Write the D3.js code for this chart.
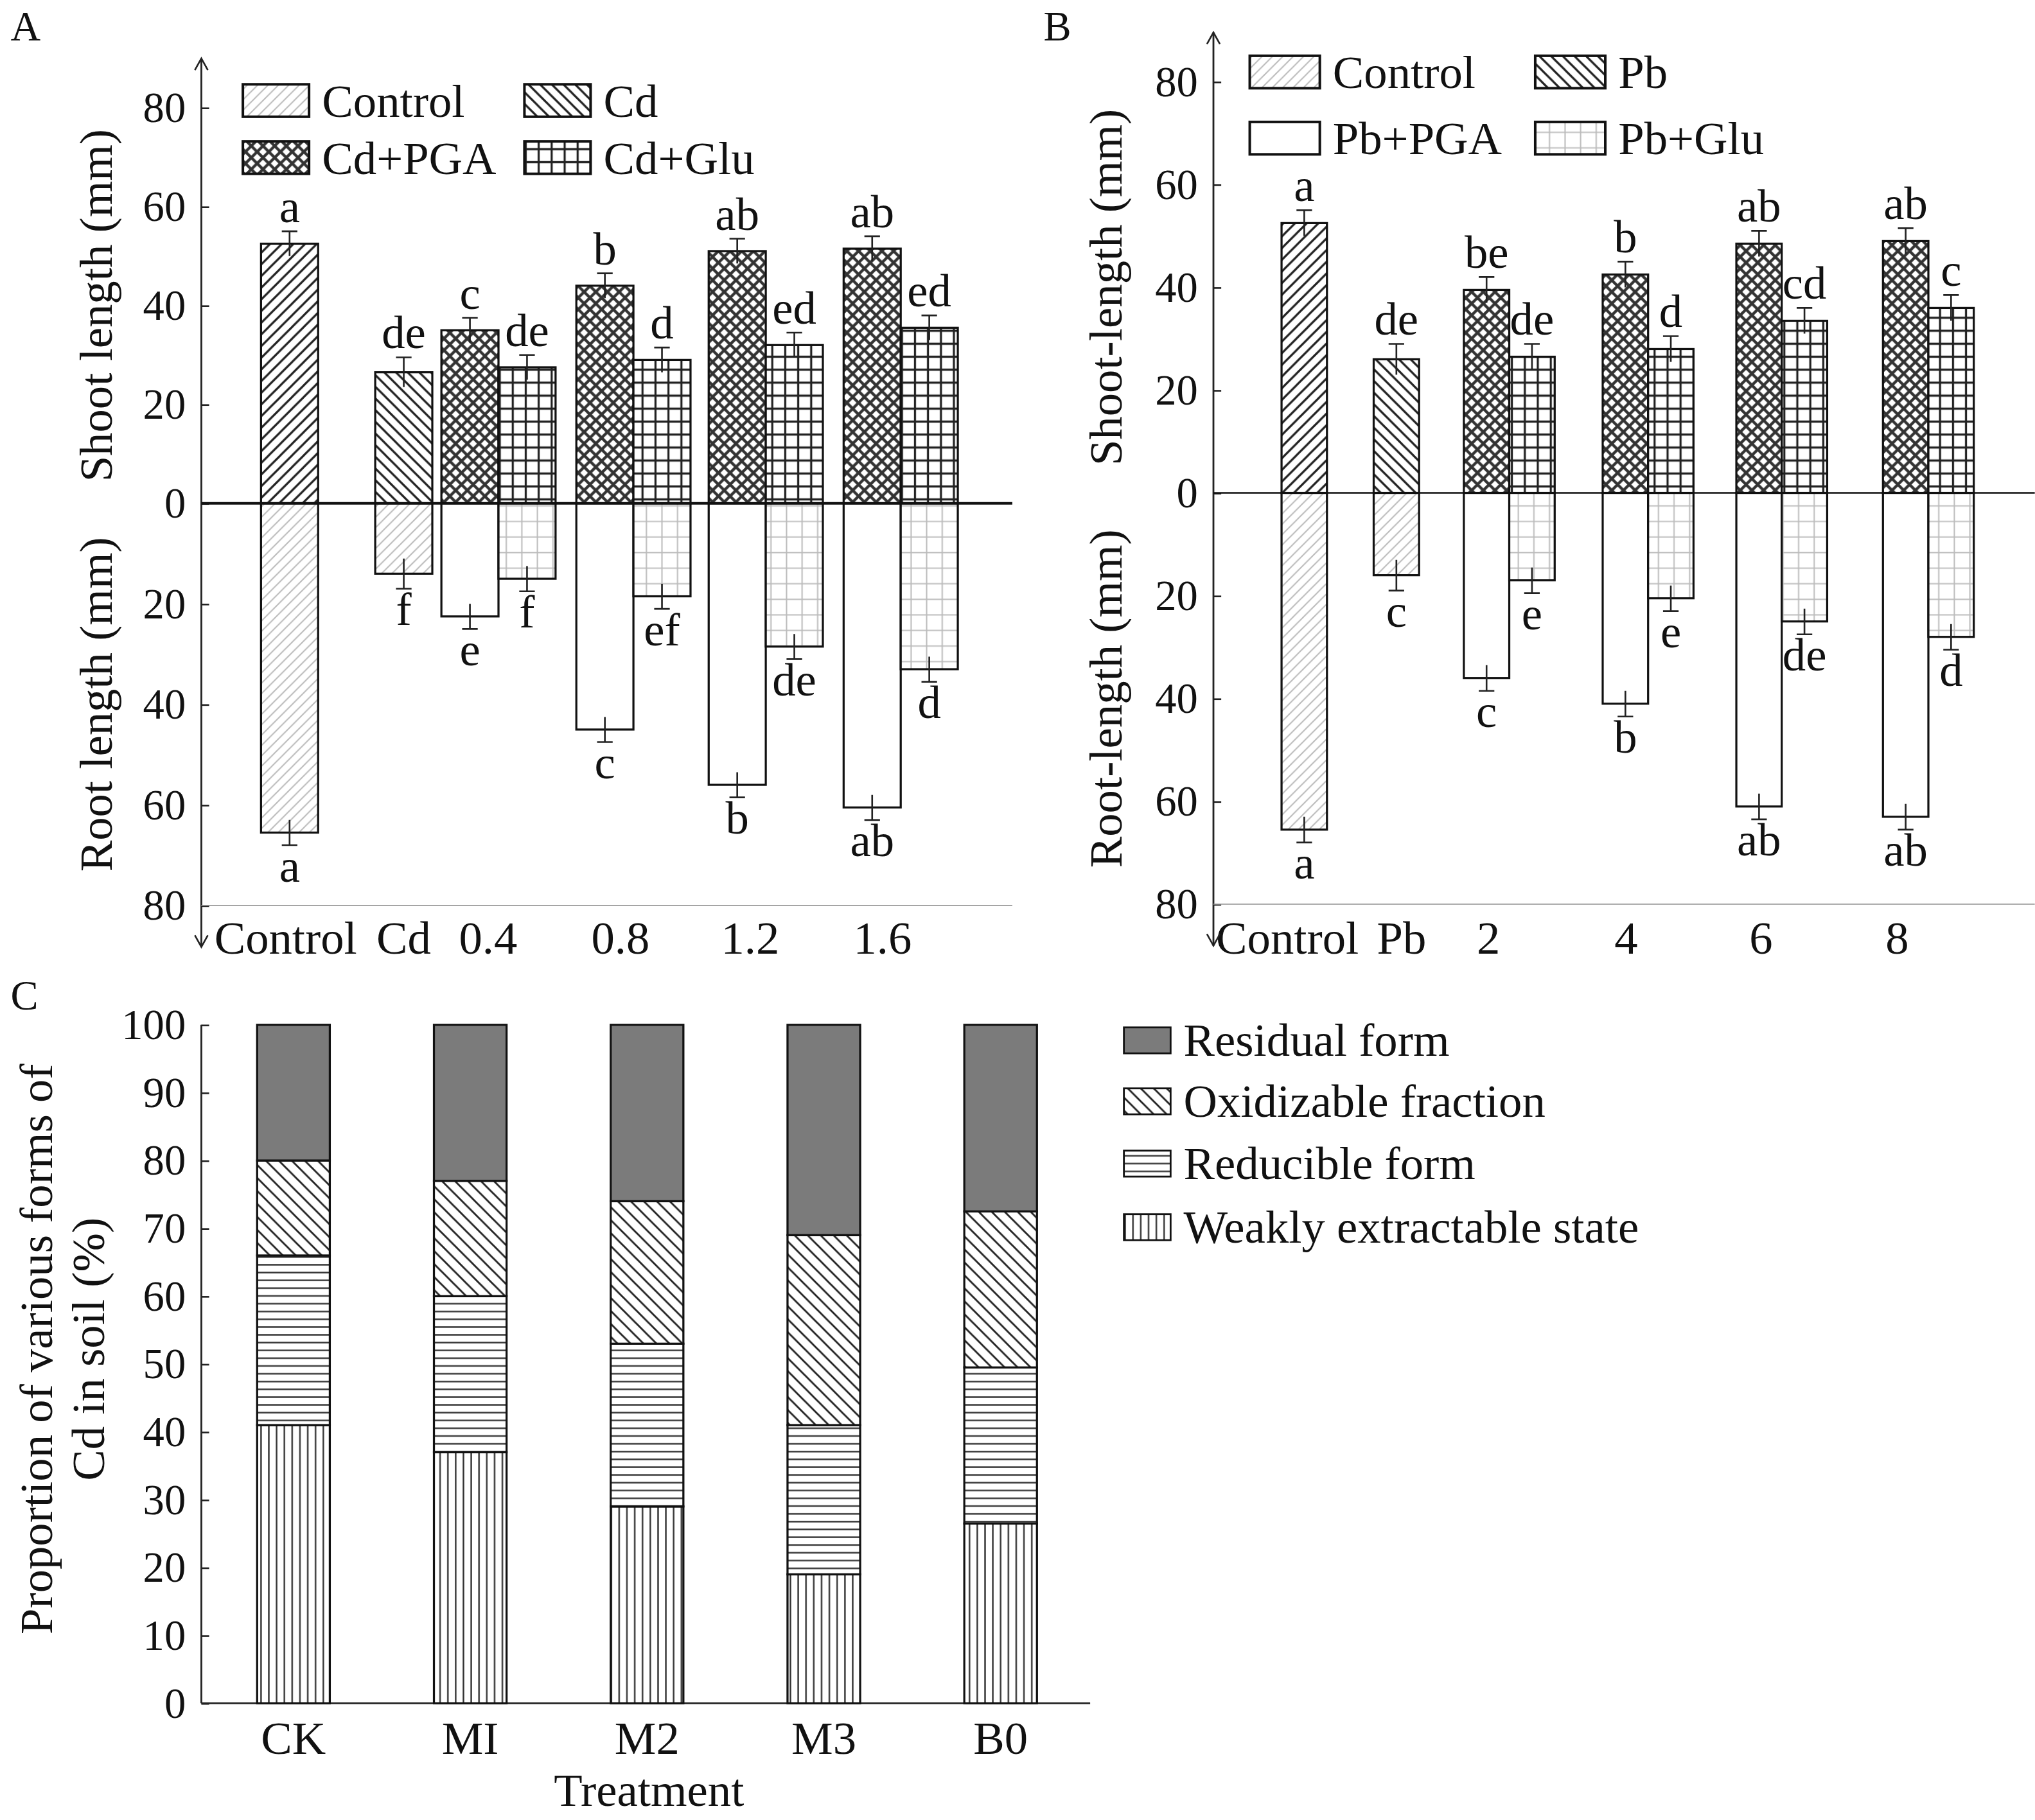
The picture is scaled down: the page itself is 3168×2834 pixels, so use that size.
<!DOCTYPE html>
<html>
<head>
<meta charset="utf-8">
<title>Shoot / root length and Cd fractions</title>
<script src="https://cdn.jsdelivr.net/npm/d3@7/dist/d3.min.js"></script>
<style>
  body { margin: 0; background: #fff; }
  text { font-family: "Liberation Serif", "DejaVu Serif", serif; fill: #111; }
</style>
</head>
<body>
<script>
// ---- panel A data ----
var catsA = ["Control", "Cd", "0.4", "0.8", "1.2", "1.6"];
var seriesA = ["Control", "Cd", "Cd+PGA", "Cd+Glu"];
var barGroupA = ["Control", "Cd", "0.4", "0.4", "0.8", "0.8", "1.2", "1.2", "1.6", "1.6"];
var barSeriesA = [0, 1, 2, 3, 2, 3, 2, 3, 2, 3];
var shootA = [52.5, 26.5, 35, 27.5, 44, 29, 51, 32, 51.5, 35.5];
var shootErrA = [2.5, 3, 2.5, 2.5, 2.5, 2.5, 2.5, 2.5, 2.5, 2.5];
var shootLetA = ["a", "de", "c", "de", "b", "d", "ab", "ed", "ab", "ed"];
var rootA = [65.5, 14, 22.5, 15, 45, 18.5, 56, 28.5, 60.5, 33];
var rootErrA = [2.5, 3, 2.5, 2.5, 2.5, 2.5, 2.5, 2.5, 2.5, 2.5];
var rootLetA = ["a", "f", "e", "f", "c", "ef", "b", "de", "ab", "d"];

// ---- panel B data ----
var catsB = ["Control", "Pb", "2", "4", "6", "8"];
var seriesB = ["Control", "Pb", "Pb+PGA", "Pb+Glu"];
var barGroupB = ["Control", "Pb", "2", "2", "4", "4", "6", "6", "8", "8"];
var barSeriesB = [0, 1, 2, 3, 2, 3, 2, 3, 2, 3];
var shootB = [52.5, 26, 39.5, 26.5, 42.5, 28, 48.5, 33.5, 49, 36];
var shootErrB = [2.5, 3, 2.5, 2.5, 2.5, 2.5, 2.5, 2.5, 2.5, 2.5];
var shootLetB = ["a", "de", "be", "de", "b", "d", "ab", "cd", "ab", "c"];
var rootB = [65.5, 16, 36, 17, 41, 20.5, 61, 25, 63, 28];
var rootErrB = [2.5, 3, 2.5, 2.5, 2.5, 2.5, 2.5, 2.5, 2.5, 2.5];
var rootLetB = ["a", "c", "c", "e", "b", "e", "ab", "de", "ab", "d"];

// ---- panel C data ----
var catsC = ["CK", "MI", "M2", "M3", "B0"];
var formsC = ["Weakly extractable state", "Reducible form", "Oxidizable fraction", "Residual form"];
var weakC = [41, 37, 29, 19, 26.5];
var reducC = [25, 23, 24, 22, 23];
var oxidC = [14, 17, 21, 28, 23];
var residC = [20, 23, 26, 31, 27.5];
var ticksC = [0, 10, 20, 30, 40, 50, 60, 70, 80, 90, 100];
var ticksAB = [0, 20, 40, 60, 80];

var W = 1568, H = 1403;
var svg = d3.select("body").append("svg")
  .attr("width", 3168).attr("height", 2834)
  .attr("viewBox", "0 0 " + W + " " + H);

// ---- patterns ----
var defs = svg.append("defs");
function pat(id, size, bg, draw) {
  var p = defs.append("pattern").attr("id", id).attr("patternUnits", "userSpaceOnUse")
    .attr("width", size).attr("height", size);
  p.append("rect").attr("width", size).attr("height", size).attr("fill", bg);
  draw(p);
}
pat("fwdDark", 9, "#fff", function (p) {
  p.append("path").attr("d", "M-2,11 L11,-2 M-2,2 L2,-2 M7,11 L11,7").attr("stroke", "#222").attr("stroke-width", 1.6);
});
pat("fwdLight", 8, "#fff", function (p) {
  p.append("path").attr("d", "M-2,10 L10,-2 M-2,2 L2,-2 M6,10 L10,6").attr("stroke", "#bbb").attr("stroke-width", 1);
});
pat("back", 9, "#fff", function (p) {
  p.append("path").attr("d", "M-2,-2 L11,11 M-2,7 L2,11 M7,-2 L11,2").attr("stroke", "#222").attr("stroke-width", 1.6);
});
pat("cross", 9, "#fff", function (p) {
  p.append("path").attr("d", "M0,0 L9,9 M9,0 L0,9").attr("stroke", "#333").attr("stroke-width", 2.2);
  p.append("circle").attr("cx", 4.5).attr("cy", 0).attr("r", 1.6).attr("fill", "#fff");
  p.append("circle").attr("cx", 4.5).attr("cy", 9).attr("r", 1.6).attr("fill", "#fff");
});
pat("grid", 10, "#fff", function (p) {
  p.append("path").attr("d", "M5,0 V10 M0,5 H10").attr("stroke", "#222").attr("stroke-width", 1.6);
});
pat("gridLight", 12, "#fff", function (p) {
  p.append("path").attr("d", "M6,0 V12 M0,6 H12").attr("stroke", "#bbb").attr("stroke-width", 1);
});
pat("horiz", 6, "#fff", function (p) {
  p.append("path").attr("d", "M0,3 H6").attr("stroke", "#333").attr("stroke-width", 1.2);
});
pat("vert", 6, "#fff", function (p) {
  p.append("path").attr("d", "M3,0 V6").attr("stroke", "#333").attr("stroke-width", 1.2);
});
pat("backC", 10, "#fff", function (p) {
  p.append("path").attr("d", "M-2,-2 L12,12 M-2,8 L2,12 M8,-2 L12,2").attr("stroke", "#222").attr("stroke-width", 1.4);
});

var shootFill = ["url(#fwdDark)", "url(#back)", "url(#cross)", "url(#grid)"];
var rootFill = ["url(#fwdLight)", "url(#fwdLight)", "#fff", "url(#gridLight)"];
var legendFillA = ["url(#fwdLight)", "url(#back)", "url(#cross)", "url(#grid)"];
var legendFillB = ["url(#fwdLight)", "url(#back)", "#fff", "url(#gridLight)"];

var FS = 36, TS = 33;

function arrowUp(x, y) {
  svg.append("path").attr("d", "M" + (x - 5) + "," + (y + 9) + " L" + x + "," + y + " L" + (x + 5) + "," + (y + 9))
    .attr("fill", "none").attr("stroke", "#222").attr("stroke-width", 1.3);
}
function arrowDown(x, y) {
  svg.append("path").attr("d", "M" + (x - 5) + "," + (y - 9) + " L" + x + "," + y + " L" + (x + 5) + "," + (y - 9))
    .attr("fill", "none").attr("stroke", "#222").attr("stroke-width", 1.3);
}

function panel(o) {
  var g = svg.append("g");
  var yS = d3.scaleLinear().domain([0, 80]).range([o.zero, o.top]);
  var yR = d3.scaleLinear().domain([0, 80]).range([o.zero, o.bottom]);
  var x = d3.scaleOrdinal().domain(o.cats).range(o.centers);

  function bx(i) {
    var c = x(o.groups[i]);
    var s = o.series[i];
    if (s < 2) return c - o.bw / 2;
    return s === 2 ? c - o.bw : c;
  }

  var axS = g.append("g").attr("transform", "translate(" + o.ax + ",0)")
    .call(d3.axisLeft(yS).tickValues(ticksAB).tickSizeInner(-6).tickSizeOuter(0).tickPadding(12));
  var axR = g.append("g").attr("transform", "translate(" + o.ax + ",0)")
    .call(d3.axisLeft(yR).tickValues(ticksAB.slice(1)).tickSizeInner(-6).tickSizeOuter(0).tickPadding(12));
  [axS, axR].forEach(function (a) {
    a.select(".domain").remove();
    a.selectAll("text").attr("font-size", TS).attr("font-family", "Liberation Serif").attr("fill", "#111");
    a.selectAll("line").attr("stroke", "#222").attr("stroke-width", 1.3);
  });
  g.append("line").attr("x1", o.ax).attr("x2", o.ax).attr("y1", o.top - 38).attr("y2", o.bottom + 32)
    .attr("stroke", "#222").attr("stroke-width", 1.4);
  arrowUp(o.ax, o.top - 38);
  arrowDown(o.ax, o.bottom + 32);
  g.append("line").attr("x1", o.ax).attr("x2", o.right).attr("y1", o.bottom).attr("y2", o.bottom)
    .attr("stroke", "#999").attr("stroke-width", 0.8);

  var idx = d3.range(o.shoot.length);
  g.selectAll(".s").data(idx).enter().append("rect")
    .attr("x", bx).attr("width", o.bw)
    .attr("y", function (i) { return yS(o.shoot[i]); })
    .attr("height", function (i) { return yS(0) - yS(o.shoot[i]); })
    .attr("fill", function (i) { return shootFill[o.series[i]]; })
    .attr("stroke", "#111").attr("stroke-width", 1.6);
  g.selectAll(".r").data(idx).enter().append("rect")
    .attr("x", bx).attr("width", o.bw)
    .attr("y", o.zero)
    .attr("height", function (i) { return yR(o.root[i]) - yR(0); })
    .attr("fill", function (i) { return rootFill[o.series[i]]; })
    .attr("stroke", "#111").attr("stroke-width", 1.6);

  idx.forEach(function (i) {
    var cx = bx(i) + o.bw / 2;
    var t1 = yS(o.shoot[i] + o.shootErr[i]), t2 = yS(o.shoot[i] - o.shootErr[i]);
    g.append("path").attr("d", "M" + cx + "," + t2 + " V" + t1 + " M" + (cx - 6) + "," + t1 + " H" + (cx + 6))
      .attr("stroke", "#222").attr("stroke-width", 1.3).attr("fill", "none");
    g.append("text").attr("x", cx).attr("y", t1 - 7).attr("text-anchor", "middle")
      .attr("font-size", FS).text(o.shootLet[i]);
    var r1 = yR(o.root[i] + o.rootErr[i]), r2 = yR(o.root[i] - o.rootErr[i]);
    g.append("path").attr("d", "M" + cx + "," + r2 + " V" + r1 + " M" + (cx - 6) + "," + r1 + " H" + (cx + 6))
      .attr("stroke", "#222").attr("stroke-width", 1.3).attr("fill", "none");
    g.append("text").attr("x", cx).attr("y", r1 + 28).attr("text-anchor", "middle")
      .attr("font-size", FS).text(o.rootLet[i]);
  });

  g.append("line").attr("x1", o.ax).attr("x2", o.right).attr("y1", o.zero).attr("y2", o.zero)
    .attr("stroke", "#111").attr("stroke-width", o.zeroW);

  g.selectAll(".c").data(o.cats).enter().append("text")
    .attr("x", function (d, i) { return o.labelX[i]; }).attr("y", 735)
    .attr("text-anchor", "middle").attr("font-size", FS).text(function (d) { return d; });

  g.append("text").attr("transform", "translate(" + o.titleX + "," + yS(40) + ") rotate(-90)")
    .attr("text-anchor", "middle").attr("font-size", FS).text(o.shootTitle);
  g.append("text").attr("transform", "translate(" + o.titleX + "," + yR(40) + ") rotate(-90)")
    .attr("text-anchor", "middle").attr("font-size", FS).text(o.rootTitle);

  o.legendNames.forEach(function (n, k) {
    var lx = o.legX[k % 2], ly = o.legY[Math.floor(k / 2)];
    g.append("rect").attr("x", lx).attr("y", ly - 13).attr("width", o.legW).attr("height", 25)
      .attr("fill", o.legendFill[k]).attr("stroke", "#111").attr("stroke-width", 2);
    g.append("text").attr("x", lx + o.legW + 10).attr("y", ly + 12).attr("font-size", FS).text(n);
  });
  g.append("text").attr("x", o.letterX).attr("y", 31).attr("font-size", 32).text(o.letter);
}

panel({
  letter: "A", letterX: 8, cats: catsA, groups: barGroupA, series: barSeriesA,
  shoot: shootA, shootErr: shootErrA, shootLet: shootLetA,
  root: rootA, rootErr: rootErrA, rootLet: rootLetA,
  centers: [223, 311, 384, 488, 590, 694], labelX: [220, 311, 376, 478, 578, 680],
  bw: 44, ax: 155, right: 780, zero: 388, top: 83, bottom: 698, zeroW: 2,
  titleX: 86, shootTitle: "Shoot length (mm)", rootTitle: "Root length (mm)",
  legendNames: seriesA, legendFill: legendFillA, legX: [187, 404], legY: [78, 122], legW: 51
});
panel({
  letter: "B", letterX: 804, cats: catsB, groups: barGroupB, series: barSeriesB,
  shoot: shootB, shootErr: shootErrB, shootLet: shootLetB,
  root: rootB, rootErr: rootErrB, rootLet: rootLetB,
  centers: [1005, 1076, 1163, 1270, 1373, 1486], labelX: [992, 1080, 1147, 1253, 1357, 1462],
  bw: 35, ax: 935, right: 1568, zero: 380, top: 63, bottom: 697, zeroW: 1.2,
  titleX: 864, shootTitle: "Shoot-length (mm)", rootTitle: "Root-length (mm)",
  legendNames: seriesB, legendFill: legendFillB, legX: [963, 1183], legY: [56, 107], legW: 54
});

// ---- panel C ----
(function () {
  var g = svg.append("g");
  var y = d3.scaleLinear().domain([0, 100]).range([1313, 790]);
  var x = d3.scalePoint().domain(catsC).range([226, 771]);
  var bw = 56;
  var layers = [weakC, reducC, oxidC, residC];
  var fills = ["url(#vert)", "url(#horiz)", "url(#backC)", "#7b7b7b"];
  var ax = g.append("g").attr("transform", "translate(155,0)")
    .call(d3.axisLeft(y).tickValues(ticksC).tickSizeInner(-6).tickSizeOuter(0).tickPadding(12));
  ax.select(".domain").remove();
  ax.selectAll("text").attr("font-size", TS).attr("font-family", "Liberation Serif").attr("fill", "#111");
  ax.selectAll("line").attr("stroke", "#222").attr("stroke-width", 1.3);
  g.append("line").attr("x1", 155).attr("x2", 155).attr("y1", 790).attr("y2", 1313).attr("stroke", "#222").attr("stroke-width", 1.4);
  g.append("line").attr("x1", 155).attr("x2", 840).attr("y1", 1313).attr("y2", 1313).attr("stroke", "#222").attr("stroke-width", 1.4);

  catsC.forEach(function (c, i) {
    var base = 0;
    layers.forEach(function (arr, k) {
      var v = arr[i];
      g.append("rect").attr("x", x(c) - bw / 2).attr("width", bw)
        .attr("y", y(base + v)).attr("height", y(base) - y(base + v))
        .attr("fill", fills[k]).attr("stroke", "#111").attr("stroke-width", 1.6);
      base += v;
    });
  });
  g.selectAll(".xl").data(catsC).enter().append("text")
    .attr("x", function (d) { return x(d); }).attr("y", 1352).attr("text-anchor", "middle")
    .attr("font-size", FS).text(function (d) { return d; });
  g.append("text").attr("x", 500).attr("y", 1392).attr("text-anchor", "middle").attr("font-size", FS).text("Treatment");
  g.append("text").attr("transform", "translate(40,1040) rotate(-90)").attr("text-anchor", "middle")
    .attr("font-size", FS).text("Proportion of various forms of");
  g.append("text").attr("transform", "translate(80,1040) rotate(-90)").attr("text-anchor", "middle")
    .attr("font-size", FS).text("Cd in soil (%)");
  g.append("text").attr("x", 8).attr("y", 778).attr("font-size", 32).text("C");

  var legRows = [802, 849, 897, 946];
  [3, 2, 1, 0].forEach(function (k, r) {
    g.append("rect").attr("x", 866).attr("y", legRows[r] - 10).attr("width", 36).attr("height", 20)
      .attr("fill", fills[k]).attr("stroke", "#111").attr("stroke-width", 1.4);
    g.append("text").attr("x", 912).attr("y", legRows[r] + 12).attr("font-size", FS).text(formsC[k]);
  });
})();
</script>
</body>
</html>
